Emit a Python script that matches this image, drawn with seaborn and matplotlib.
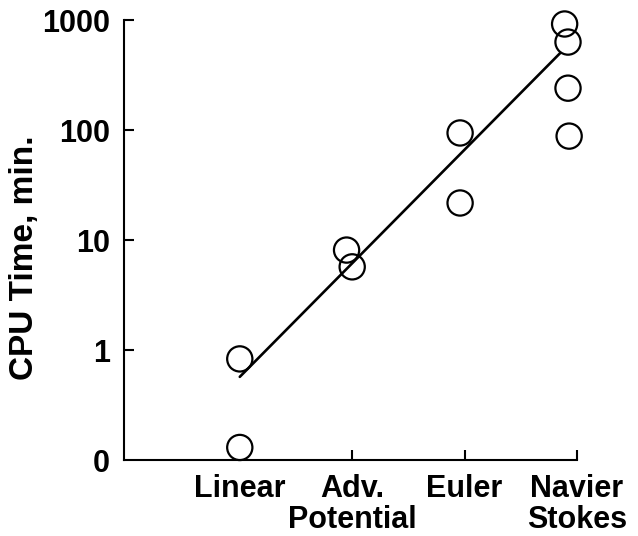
import matplotlib
matplotlib.use('Agg')
import matplotlib.pyplot as plt
import seaborn as sns
import pandas as pd

# categories on the x axis (positions 0..3)
categories = ['Linear', 'Adv.\nPotential', 'Euler', 'Navier\nStokes']

# measured runs: x position (category index, slightly offset) and CPU time in minutes
run_x = [0.0, 0.0, 0.95, 1.0, 1.96, 1.96, 2.89, 2.92, 2.92, 2.93]
run_time = [0.83, 0.13, 8.1, 5.7, 94, 21.7, 920, 630, 240, 88]

# trend line end points
trend_x = [0.0, 2.85]
trend_time = [0.57, 500]

ytick_vals = [0.1, 1, 10, 100, 1000]
ytick_labels = ['0', '1', '10', '100', '1000']

sns.set_style('ticks', {'axes.edgecolor': 'black', 'text.color': 'black',
                        'xtick.color': 'black', 'ytick.color': 'black',
                        'axes.labelcolor': 'black'})
plt.rcParams['font.family'] = ['Liberation Sans', 'DejaVu Sans']
plt.rcParams['font.weight'] = 'bold'

runs = pd.DataFrame({'x': run_x, 'time': run_time})
trend = pd.DataFrame({'x': trend_x, 'time': trend_time})

fig = plt.figure(figsize=(6.38, 5.36), dpi=100)
ax = fig.add_axes([124 / 638, 1 - 460 / 536, (577 - 124) / 638, (460 - 20) / 536])

sns.lineplot(data=trend, x='x', y='time', color='black', linewidth=1.9, ax=ax)
sns.scatterplot(data=runs, x='x', y='time', marker='o', s=330,
                facecolors='none', edgecolor='black', linewidth=1.6, ax=ax,
                zorder=3, clip_on=False)

ax.set_yscale('log')
ax.set_ylim(0.1, 1000)
ax.set_xlim(-1.03, 3.0)
ax.set_yticks(ytick_vals)
ax.set_yticklabels(ytick_labels)
ax.minorticks_off()
ax.set_xticks(range(len(categories)))
ax.set_xticklabels(categories, linespacing=1.05)
ax.xaxis.get_major_ticks()[0].tick1line.set_visible(False)
ax.yaxis.get_major_ticks()[0].tick1line.set_visible(False)

ax.tick_params(axis='both', direction='in', length=7, width=1.5, labelsize=22,
               pad=10, colors='black')
for lab in ax.get_xticklabels() + ax.get_yticklabels():
    lab.set_fontweight('bold')

ax.set_xlabel('')
ax.set_ylabel('CPU Time, min.', fontsize=24, fontweight='bold', color='black')
ax.yaxis.set_label_coords(-0.185, 0.46)

sns.despine(ax=ax)
for sp in ['left', 'bottom']:
    ax.spines[sp].set_linewidth(1.5)
    ax.spines[sp].set_color('black')

fig.savefig('out.png', dpi=100)
